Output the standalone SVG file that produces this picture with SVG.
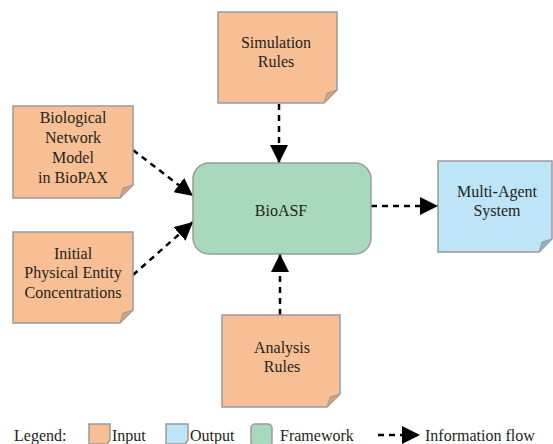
<svg xmlns="http://www.w3.org/2000/svg" width="553" height="444" viewBox="0 0 553 444" font-family="Liberation Serif, DejaVu Serif, serif">
<style>
text{font-family:'Liberation Serif','DejaVu Serif',serif;font-size:16px;fill:#231f20;text-anchor:middle}
.in{fill:#f9bf94;stroke:#9a9a9a;stroke-width:1.5}
.infold{fill:#d9a07a;stroke:#9a9a9a;stroke-width:1}
.out{fill:#bde5f7;stroke:#9a9a9a;stroke-width:1.5}
.outfold{fill:#8fb3c4;stroke:#9a9a9a;stroke-width:1}
.fw{fill:#a9d9bc;stroke:#9a9a9a;stroke-width:1.5}
.flow{stroke:#000;stroke-width:2.5;stroke-dasharray:6 5;fill:none}
.lg{text-anchor:start}
</style>
<defs>
<marker id="ah" markerUnits="userSpaceOnUse" markerWidth="18" markerHeight="18" refX="18" refY="9" orient="auto" viewBox="0 0 18 18">
<path d="M0,0 L18,9 L0,18 Z" fill="#000"/>
</marker>
</defs>
<rect width="553" height="444" fill="#fff"/>
<g id="connectors">
<line class="flow" x1="279" y1="104" x2="279" y2="163" marker-end="url(#ah)"/>
<line class="flow" x1="133" y1="150" x2="193" y2="196" marker-end="url(#ah)"/>
<line class="flow" x1="133" y1="275" x2="193" y2="222" marker-end="url(#ah)"/>
<line class="flow" x1="280" y1="315" x2="280" y2="254" marker-end="url(#ah)"/>
<line class="flow" x1="371" y1="206" x2="438" y2="206" marker-end="url(#ah)"/>
</g>
<g id="simulation">
<path class="in" d="M218,12 H337 V90 L324,103 H218 Z"/>
<path class="infold" d="M337,90 L324,103 L327,93 Z"/>
<text x="276" y="48">Simulation</text>
<text x="276" y="67">Rules</text>
</g>
<g id="biological">
<path class="in" d="M13,106 H133 V185 L120,198 H13 Z"/>
<path class="infold" d="M133,185 L120,198 L123,188 Z"/>
<text x="73" y="123">Biological</text>
<text x="73" y="143">Network</text>
<text x="73" y="163">Model</text>
<text x="73" y="183">in BioPAX</text>
</g>
<g id="initial">
<path class="in" d="M13,232 H133 V310 L120,323 H13 Z"/>
<path class="infold" d="M133,310 L120,323 L123,313 Z"/>
<text x="73" y="259">Initial</text>
<text x="73" y="278">Physical Entity</text>
<text x="73" y="298">Concentrations</text>
</g>
<g id="bioasf">
<rect class="fw" x="193" y="163" width="178" height="91" rx="16" ry="16"/>
<text x="281" y="216">BioASF</text>
</g>
<g id="mas">
<path class="out" d="M438,161 H552 V239 L539,252 H438 Z"/>
<path class="outfold" d="M552,239 L539,252 L542,242 Z"/>
<text x="497" y="197">Multi-Agent</text>
<text x="497" y="216">System</text>
</g>
<g id="analysis">
<path class="in" d="M222,315 H340 V394 L327,407 H222 Z"/>
<path class="infold" d="M340,394 L327,407 L330,397 Z"/>
<text x="282" y="353">Analysis</text>
<text x="282" y="372">Rules</text>
</g>
<g id="legend">
<text class="lg" x="14" y="441">Legend:</text>
<path class="in" d="M89,424 H110 V440 L107,444 H89 Z"/>
<text class="lg" x="112" y="441">Input</text>
<path class="out" d="M166,424 H188 V440 L185,444 H166 Z"/>
<text class="lg" x="190" y="441">Output</text>
<rect class="fw" x="251" y="424" width="21" height="22" rx="4"/>
<text class="lg" x="280" y="441">Framework</text>
<line class="flow" x1="378" y1="435" x2="420" y2="435" marker-end="url(#ah)"/>
<text class="lg" x="425" y="441">Information flow</text>
</g>
</svg>
